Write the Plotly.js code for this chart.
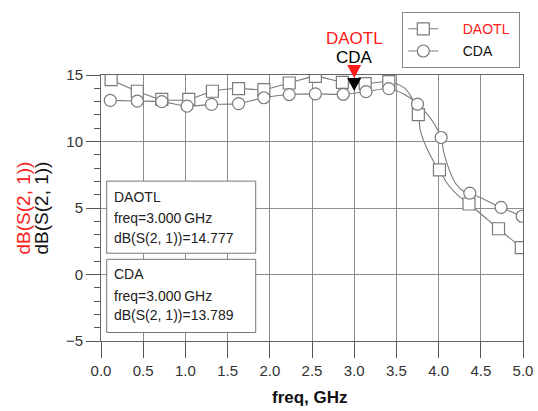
<!DOCTYPE html>
<html>
<head>
<meta charset="utf-8">
<script src="https://cdn.plot.ly/plotly-3.0.1.min.js"></script>
<style>html,body{margin:0;padding:0;background:#fff;}#chart{width:538px;height:411px;}</style>
</head>
<body>
<div id="chart"></div>
<script>
// ---- data ----
const seriesNames = ['DAOTL', 'CDA'];
// DAOTL curve
const daotlFreq = [0.12,0.43,0.72,1.04,1.32,1.63,1.93,2.23,2.54,2.86,3.13,3.41,3.59,3.68,3.76,3.78,3.82,3.90,3.98,4.01,4.10,4.22,4.36,4.71,4.98];
const daotlVal  = [14.65,13.78,13.16,13.16,13.78,13.98,13.9,14.4,14.9,14.45,14.35,14.5,14.05,13.3,12.02,10.95,10.1,8.97,8.1,7.86,6.86,6.0,5.3,3.44,2.02];
// DAOTL symbol positions
const daotlMkFreq = [0.12,0.43,0.72,1.04,1.32,1.63,1.93,2.23,2.54,2.86,3.13,3.41,3.76,4.01,4.36,4.71,4.98];
const daotlMkVal  = [14.65,13.78,13.16,13.16,13.78,13.98,13.9,14.4,14.9,14.45,14.35,14.5,12.02,7.86,5.3,3.44,2.02];
// CDA curve
const cdaFreq = [0.11,0.43,0.72,1.02,1.31,1.63,1.93,2.23,2.54,2.87,3.14,3.41,3.59,3.70,3.75,3.88,3.96,4.03,4.06,4.12,4.20,4.30,4.37,4.74,4.99];
const cdaVal  = [13.09,13.04,13.0,12.66,12.79,12.85,13.29,13.53,13.58,13.55,13.75,13.98,13.56,13.1,12.81,11.95,11.2,10.3,9.22,7.98,6.86,6.24,6.12,5.05,4.38];
// CDA symbol positions
const cdaMkFreq = [0.11,0.43,0.72,1.02,1.31,1.63,1.93,2.23,2.54,2.87,3.14,3.41,3.75,4.03,4.37,4.74,4.99];
const cdaMkVal  = [13.09,13.04,13.0,12.66,12.79,12.85,13.29,13.53,13.58,13.55,13.75,13.98,12.81,10.3,6.12,5.05,4.38];
// marker readout
const markerFreq = 3.0;
const markerVals = [14.777, 13.789];
const markerFreqText = '3.000';
// axes
const xRange = [0, 5];
const yRange = [-5, 15];
const xTicks = [0,0.5,1,1.5,2,2.5,3,3.5,4,4.5,5];
const xTickText = ['0.0','0.5','1.0','1.5','2.0','2.5','3.0','3.5','4.0','4.5','5.0'];
const yTicks = [-5,0,5,10,15];

// ---- styles ----
const lineCol = '#7a7a7a';
const textCol = '#222';
const FONT = 'Liberation Sans, Arial, sans-serif';
const symbols = ['square', 'circle'];
const nameColors = ['#ff1a1a', '#111'];
const mkStyle = (sym) => ({symbol: sym, size: 12, color: '#fff', line: {color: lineCol, width: 1.2}});
const NB = '\u00a0';

const curves = [[daotlFreq, daotlVal], [cdaFreq, cdaVal]];
const mks = [[daotlMkFreq, daotlMkVal], [cdaMkFreq, cdaMkVal]];

const traces = [];
curves.forEach((c, i) => {
  traces.push({x: c[0], y: c[1], mode: 'lines', type: 'scatter', showlegend: false,
    line: {color: lineCol, width: 1.1, shape: 'spline', smoothing: 0.7}, hoverinfo: 'skip'});
});
mks.forEach((m, i) => {
  traces.push({x: m[0], y: m[1], mode: 'markers', type: 'scatter', showlegend: false,
    marker: mkStyle(symbols[i]), hoverinfo: 'skip'});
});
seriesNames.forEach((n, i) => {
  traces.push({x: [null], y: [null], mode: 'lines+markers', type: 'scatter',
    name: NB.repeat(5) + '<span style="color:' + nameColors[i] + '">' + n + '</span>' + NB,
    legendgroup: n, line: {color: lineCol, width: 1.1}, marker: mkStyle(symbols[i])});
});

// marker triangles (pixel-size shapes anchored at the data point, placed in paper space so they are not clipped)
const triColors = ['#ff1a1a', '#000'];
const toPaperY = v => (v - yRange[0]) / (yRange[1] - yRange[0]);
const shapes = markerVals.map((v, i) => ({
  type: 'path', xref: 'x', yref: 'paper', xsizemode: 'pixel', ysizemode: 'pixel',
  xanchor: markerFreq, yanchor: toPaperY(v), path: 'M-7,13 L7,13 L0,0 Z',
  fillcolor: triColors[i], line: {width: 0}
}));
// readout boxes
const boxY = [[0.33, 0.601], [0.032, 0.307]];
boxY.forEach(b => shapes.push({type: 'rect', xref: 'paper', yref: 'paper',
  x0: 0.0135, x1: 0.3666, y0: b[0], y1: b[1], fillcolor: '#fff',
  line: {color: '#777', width: 1}}));

const annotations = [];
const lineYs = [[0.543, 0.462, 0.388], [0.252, 0.171, 0.099]];
seriesNames.forEach((n, i) => {
  const lines = [n, 'freq=' + markerFreqText + '\u2009GHz', 'dB(S(2, 1))=' + markerVals[i].toFixed(3)];
  lines.forEach((t, k) => annotations.push({xref: 'paper', yref: 'paper', x: 0.0254, y: lineYs[i][k],
    xanchor: 'left', yanchor: 'middle', text: t, showarrow: false,
    font: {family: FONT, size: 14, color: textCol}}));
});
// marker labels above the plot
annotations.push({xref: 'x', yref: 'paper', x: markerFreq, y: 1, yshift: 37, text: seriesNames[0],
  showarrow: false, yanchor: 'middle', borderpad: 0, font: {family: FONT, size: 17, color: '#ff1a1a'}});
annotations.push({xref: 'x', yref: 'paper', x: markerFreq, y: 1, yshift: 18, text: seriesNames[1],
  showarrow: false, yanchor: 'middle', borderpad: 0, font: {family: FONT, size: 17, color: '#000'}});
// y axis titles
annotations.push({xref: 'paper', yref: 'paper', x: -0.186, y: 0.5, text: 'dB(S(2, 1))', textangle: -90,
  showarrow: false, xanchor: 'center', yanchor: 'middle', font: {family: FONT, size: 19, color: '#ff1a1a'}});
annotations.push({xref: 'paper', yref: 'paper', x: -0.141, y: 0.5, text: 'dB(S(2, 1))', textangle: -90,
  showarrow: false, xanchor: 'center', yanchor: 'middle', font: {family: FONT, size: 19, color: '#111'}});
// x axis title
annotations.push({xref: 'paper', yref: 'paper', x: 0.496, y: -0.212, text: '<b>freq, GHz</b>',
  showarrow: false, xanchor: 'center', yanchor: 'middle', font: {family: FONT, size: 17, color: '#111'}});

const layout = {
  width: 538, height: 411,
  margin: {l: 101, r: 15, t: 72, b: 70},
  paper_bgcolor: '#fff', plot_bgcolor: '#fff',
  font: {family: FONT, color: '#333'},
  xaxis: {range: xRange, tickvals: xTicks, ticktext: xTickText, ticks: 'outside', ticklen: 16,
    tickcolor: '#555', showgrid: true, gridcolor: '#8c8c8c', gridwidth: 1, zeroline: false,
    showline: true, linecolor: '#666', mirror: true, tickfont: {size: 15, color: '#333'}, fixedrange: true},
  yaxis: {range: yRange, tickvals: yTicks, ticks: 'outside', ticklen: 14, tickcolor: '#555',
    showgrid: true, gridcolor: '#8c8c8c', gridwidth: 1, zeroline: false,
    showline: true, linecolor: '#666', mirror: true, tickfont: {size: 15, color: '#333'},
    minor: {dtick: 1, ticks: 'outside', ticklen: 6, tickcolor: '#555', showgrid: false}, fixedrange: true},
  showlegend: true,
  legend: {x: 0.714, y: 1.236, xanchor: 'left', yanchor: 'top', bgcolor: '#fff',
    bordercolor: '#888', borderwidth: 1, font: {family: FONT, size: 14, color: '#111'},
    tracegroupgap: 1, traceorder: 'grouped'},
  shapes: shapes,
  annotations: annotations
};

Plotly.newPlot('chart', traces, layout, {staticPlot: true, displayModeBar: false});
</script>
</body>
</html>
